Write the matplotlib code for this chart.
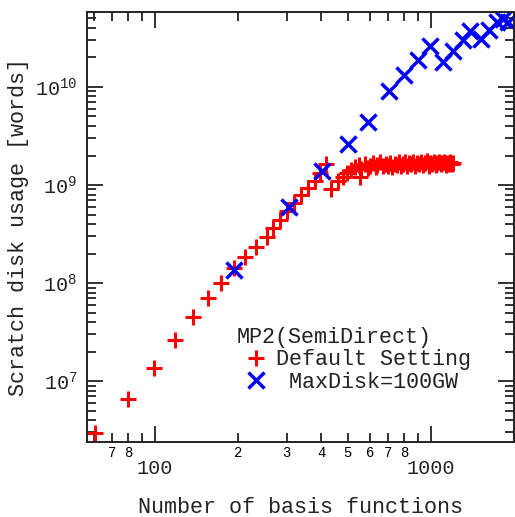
import math
import matplotlib
matplotlib.use("Agg")
import matplotlib.pyplot as plt
from matplotlib.ticker import FixedLocator, FixedFormatter, FuncFormatter, LogLocator, NullFormatter

plt.rcParams['font.family'] = ['Liberation Mono', 'DejaVu Sans Mono']
plt.rcParams['mathtext.default'] = 'regular'

# Default Setting (red +)
default_x = [60.7, 80, 99.2, 118, 137, 156, 174, 194, 212, 232, 254, 268, 284, 301, 319, 338, 358,
             380, 396, 417, 436, 460, 480, 496, 513, 530, 549, 553,
             560, 575, 590, 600, 615, 630, 640, 655, 670, 685, 700, 712, 725, 740, 752, 765, 780, 795,
             808, 820, 835, 850, 862, 875, 890, 905, 920, 935, 950, 965, 980, 995, 1010, 1025, 1040,
             1055, 1070, 1085, 1100, 1115, 1130, 1145, 1160, 1175, 1190, 1205]
default_y = [2.97e6, 6.54e6, 1.36e7, 2.62e7, 4.47e7, 6.98e7, 9.93e7, 1.41e8, 1.83e8, 2.31e8, 2.97e8,
             3.64e8, 4.40e8, 5.43e8, 6.55e8, 7.9e8, 9.3e8, 1.10e9, 1.32e9, 1.62e9,
             9.0e8, 1.10e9, 1.21e9, 1.33e9, 1.42e9, 1.53e9, 1.60e9, 1.21e9,
             1.45e9, 1.62e9, 1.50e9, 1.58e9, 1.66e9, 1.52e9, 1.60e9, 1.70e9, 1.55e9, 1.63e9, 1.58e9,
             1.68e9, 1.52e9, 1.65e9, 1.60e9, 1.72e9, 1.56e9, 1.64e9, 1.70e9, 1.58e9, 1.66e9, 1.62e9,
             1.73e9, 1.55e9, 1.68e9, 1.64e9, 1.70e9, 1.60e9, 1.66e9, 1.74e9, 1.58e9, 1.68e9, 1.63e9,
             1.72e9, 1.60e9, 1.67e9, 1.70e9, 1.62e9, 1.66e9, 1.73e9, 1.61e9, 1.68e9, 1.65e9, 1.70e9,
             1.64e9, 1.66e9]

# MaxDisk=100GW (blue x)
maxdisk_x = [193, 307, 402, 501, 593, 707, 802, 900, 996, 1109, 1205, 1307, 1391, 1517, 1622, 1734,
             1822, 1909]
maxdisk_y = [1.36e8, 5.9e8, 1.39e9, 2.62e9, 4.43e9, 9.2e9, 1.34e10, 1.89e10, 2.59e10, 1.80e10,
             2.35e10, 3.02e10, 3.75e10, 3.09e10, 3.82e10, 4.64e10, 4.94e10, 4.6e10]

x_minor_labels = {70: '7', 80: '8', 200: '2', 300: '3', 400: '4', 500: '5', 600: '6', 700: '7', 800: '8'}

fig = plt.figure(figsize=(5.15, 5.17), dpi=100)
ax = fig.add_axes([87 / 515, 1 - 442 / 517, 427 / 515, 430 / 517])

ax.plot(default_x, default_y, linestyle='none', marker='+', ms=12, mew=2.2, color='#ff0000',
        label='Default Setting', clip_on=False)
ax.plot(maxdisk_x, maxdisk_y, linestyle='none', marker='x', ms=11, mew=2.5, color='#0000ff',
        label=' MaxDisk=100GW')

ax.set_xscale('log')
ax.set_yscale('log')
ax.set_xlim(56.7, 2000)
ax.set_ylim(2.39e6, 5.82e10)

# x ticks
ax.xaxis.set_major_locator(FixedLocator([100, 1000]))
ax.xaxis.set_major_formatter(FixedFormatter(['100', '1000']))
minor_x = [60, 70, 80, 90] + [k * 100 for k in range(2, 10)] + [2000]
ax.xaxis.set_minor_locator(FixedLocator(minor_x))
ax.xaxis.set_minor_formatter(FixedFormatter([x_minor_labels.get(v, '') for v in minor_x]))

# y ticks
ax.yaxis.set_major_locator(LogLocator(base=10, numticks=20))
ax.yaxis.set_major_formatter(FuncFormatter(lambda v, p: r'$\mathregular{10^{%d}}$' % round(math.log10(v))))
ax.yaxis.set_minor_locator(LogLocator(base=10, subs=range(2, 10), numticks=20))
ax.yaxis.set_minor_formatter(NullFormatter())

spine_c = '#222222'
for s in ax.spines.values():
    s.set_color(spine_c)
    s.set_linewidth(1.4)

ax.tick_params(which='both', direction='in', top=True, right=True, color=spine_c, width=1.3)
ax.tick_params(which='major', length=11.5)
ax.tick_params(which='minor', length=6.5)
ax.tick_params(axis='x', which='major', labelsize=14.5, pad=12)
ax.tick_params(axis='x', which='minor', labelsize=10, pad=3)
ax.tick_params(axis='y', which='major', labelsize=14.5, pad=7)
ax.tick_params(labelcolor='#222222')

ax.set_xlabel('Number of basis functions', fontsize=15.7, labelpad=14, color='#222222')
ax.set_ylabel('Scratch disk usage [words]', fontsize=15.7, labelpad=4, color='#222222')

leg = ax.legend(loc='lower left', bbox_to_anchor=(0.35, 0.115), frameon=False, fontsize=15.7,
                title='MP2(SemiDirect)', title_fontsize=15.7, handlelength=1.8, handletextpad=0.0,
                labelspacing=0.05, borderpad=0, borderaxespad=0, alignment='left')
for t in leg.get_texts():
    t.set_color('#222222')
leg.get_title().set_color('#222222')

fig.savefig('out.png', dpi=100)
